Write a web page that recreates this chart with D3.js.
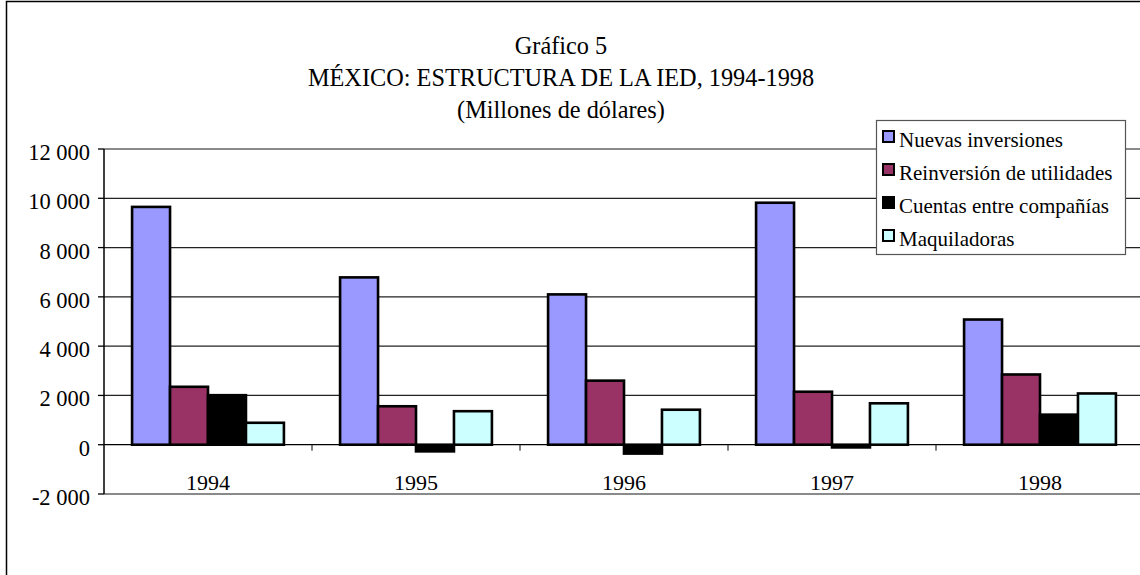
<!DOCTYPE html>
<meta charset="utf-8">
<script src="https://d3js.org/d3.v7.min.js"></script>
<style>
    body { margin: 0; background: #fff; }
    text { font-family: "Liberation Serif", "Times New Roman", serif; fill: #000; }
</style>
<div id="vis"></div>
<script>
    // data
    var years = ["1994", "1995", "1996", "1997", "1998"];
    var series = ["Nuevas inversiones", "Reinversión de utilidades", "Cuentas entre compañías", "Maquiladoras"];
    var nuevas = [9650, 6790, 6100, 9820, 5080];
    var reinversion = [2350, 1560, 2600, 2150, 2850];
    var cuentas = [2010, -270, -360, -110, 1220];
    var maquila = [890, 1360, 1420, 1680, 2080];
    var yTicks = [-2000, 0, 2000, 4000, 6000, 8000, 10000, 12000];
    var colors = ["#9999FF", "#993366", "#000000", "#CCFFFF"];

    var values = [nuevas, reinversion, cuentas, maquila];

    // size && plot area
    var W = 1140, H = 575;
    var plot = { lft: 104, rgt: 1144, top: 149, btm: 494 };

    var svg = d3.select("#vis")
        .append("svg")
        .attr("width", W)
        .attr("height", H);

    // outer chart frame
    svg.append("rect")
        .attr("x", 6.5).attr("y", 1.5)
        .attr("width", W + 20).attr("height", H + 20)
        .attr("fill", "none")
        .attr("stroke", "#000")
        .attr("stroke-width", 1.5);

    // scales
    var x0 = d3.scaleBand()
        .domain(years)
        .range([plot.lft, plot.rgt]);
    var bw = x0.bandwidth();
    var x1 = d3.scaleBand()
        .domain(series)
        .range([bw * 0.135, bw * 0.865]);
    var y = d3.scaleLinear()
        .domain([-2000, 12000])
        .range([plot.btm, plot.top]);
    var clr = d3.scaleOrdinal().domain(series).range(colors);

    // gridlines
    svg.append("g")
        .selectAll("line")
        .data(yTicks.filter(function (d) { return d > -2000 && d < 12000 && d !== 0; }))
        .enter()
        .append("line")
        .attr("x1", plot.lft).attr("x2", plot.rgt)
        .attr("y1", function (d) { return y(d); })
        .attr("y2", function (d) { return y(d); })
        .attr("stroke", "#222")
        .attr("stroke-width", 1.3);

    // plot area border top && bottom (gray)
    [12000, -2000].forEach(function (v) {
        svg.append("line")
            .attr("x1", plot.lft).attr("x2", plot.rgt)
            .attr("y1", y(v)).attr("y2", y(v))
            .attr("stroke", "#8a8a8a")
            .attr("stroke-width", 2.2);
    });

    // bars
    var rows = [];
    years.forEach(function (yr, i) {
        series.forEach(function (s, j) {
            rows.push({ year: yr, key: s, value: values[j][i] });
        });
    });

    svg.append("g")
        .selectAll("rect")
        .data(rows)
        .enter()
        .append("rect")
        .attr("x", function (d) { return x0(d.year) + x1(d.key); })
        .attr("y", function (d) { return y(Math.max(0, d.value)); })
        .attr("width", x1.bandwidth())
        .attr("height", function (d) { return Math.abs(y(d.value) - y(0)); })
        .attr("fill", function (d) { return clr(d.key); })
        .attr("stroke", "#000")
        .attr("stroke-width", 2.6);

    // category axis at zero
    var xAxis = svg.append("g");
    xAxis.append("line")
        .attr("x1", plot.lft).attr("x2", plot.rgt)
        .attr("y1", y(0)).attr("y2", y(0))
        .attr("stroke", "#000")
        .attr("stroke-width", 1.3);
    xAxis.selectAll(".tk")
        .data(years.slice(1))
        .enter()
        .append("line")
        .attr("x1", function (d) { return x0(d); })
        .attr("x2", function (d) { return x0(d); })
        .attr("y1", y(0)).attr("y2", y(0) + 6)
        .attr("stroke", "#000")
        .attr("stroke-width", 1);
    xAxis.selectAll("text")
        .data(years)
        .enter()
        .append("text")
        .attr("x", function (d) { return x0(d) + bw / 2; })
        .attr("y", 490)
        .attr("text-anchor", "middle")
        .style("font-size", "22px")
        .text(function (d) { return d; });

    // value axis
    var yAxis = svg.append("g");
    yAxis.append("line")
        .attr("x1", plot.lft).attr("x2", plot.lft)
        .attr("y1", y(12000)).attr("y2", y(-2000))
        .attr("stroke", "#000")
        .attr("stroke-width", 1.5);
    yAxis.selectAll("line.tk")
        .data(yTicks)
        .enter()
        .append("line")
        .attr("class", "tk")
        .attr("x1", plot.lft - 6).attr("x2", plot.lft)
        .attr("y1", function (d) { return y(d); })
        .attr("y2", function (d) { return y(d); })
        .attr("stroke", "#000")
        .attr("stroke-width", 1.3);
    var fmt = function (d) { return d3.format(",")(d).replace(/,/g, " ").replace("−", "-"); };
    yAxis.selectAll("text")
        .data(yTicks)
        .enter()
        .append("text")
        .attr("x", 90)
        .attr("y", function (d) { return y(d) + 11; })
        .attr("text-anchor", "end")
        .style("font-size", "22.5px")
        .text(fmt);

    // title
    var titles = ["Gráfico 5", "MÉXICO: ESTRUCTURA DE LA IED, 1994-1998", "(Millones de dólares)"];
    svg.append("g")
        .selectAll("text")
        .data(titles)
        .enter()
        .append("text")
        .attr("x", 561)
        .attr("y", function (d, i) { return 54 + i * 32; })
        .attr("text-anchor", "middle")
        .style("font-size", "24.3px")
        .text(function (d) { return d; });

    // legend
    var lg = svg.append("g");
    lg.append("rect")
        .attr("x", 876.5).attr("y", 120.5)
        .attr("width", 249).attr("height", 134)
        .attr("fill", "#fff")
        .attr("stroke", "#555")
        .attr("stroke-width", 1.2);
    var item = lg.selectAll(".item")
        .data(series)
        .enter()
        .append("g")
        .attr("transform", function (d, i) { return "translate(0," + (i * 33) + ")"; });
    item.append("rect")
        .attr("x", 883).attr("y", 131)
        .attr("width", 11).attr("height", 11)
        .attr("fill", function (d) { return clr(d); })
        .attr("stroke", "#000")
        .attr("stroke-width", 2);
    item.append("text")
        .attr("x", 899).attr("y", 147)
        .style("font-size", "21px")
        .text(function (d) { return d; });
</script>
